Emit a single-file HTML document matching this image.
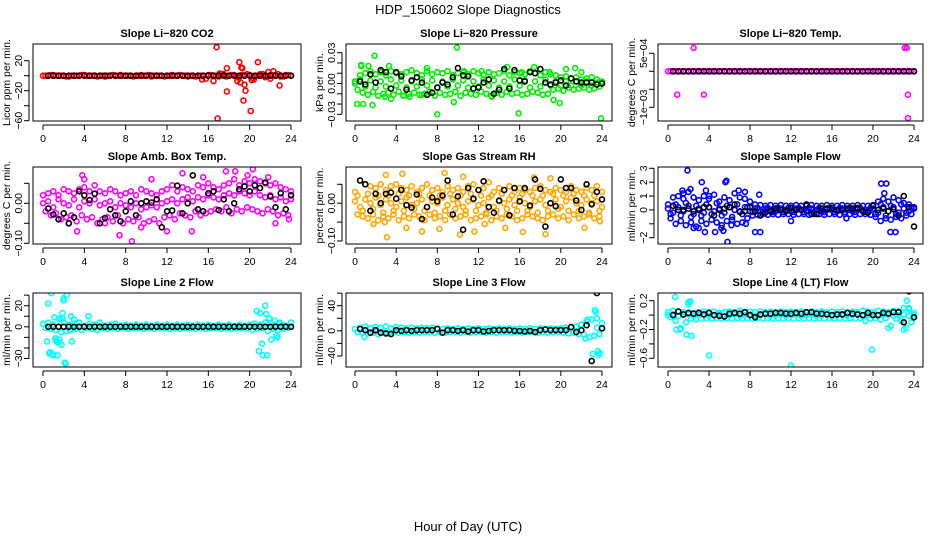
<!DOCTYPE html>
<html><head><meta charset="utf-8"><style>
body{margin:0;background:#fff}
svg{display:block;font-family:"Liberation Sans",sans-serif}
</style></head><body>
<svg id="c" width="936" height="540" viewBox="0 0 936 540">
<text x="468" y="14" text-anchor="middle" font-size="13">HDP_150602  Slope Diagnostics</text>
<text x="468" y="531" text-anchor="middle" font-size="13">Hour of Day (UTC)</text>
</svg>
<script>
// shared hours
const hxA=[0,0.5,1,1.5,2,2.5,3,3.5,4,4.5,5,5.5,6,6.5,7,7.5,8,8.5,9,9.5,10,10.5,11,11.5,12,12.5,13,13.5,14,14.5,15,15.5,16,16.5,17,17.5,18,18.5,19,19.5,20,20.5,21,21.5,22,22.5,23,23.5,24];
const hxB=[0.25,0.75,1.25,1.75,2.25,2.75,3.25,3.75,4.25,4.75,5.25,5.75,6.25,6.75,7.25,7.75,8.25,8.75,9.25,9.75,10.25,10.75,11.25,11.75,12.25,12.75,13.25,13.75,14.25,14.75,15.25,15.75,16.25,16.75,17.25,17.75,18.25,18.75,19.25,19.75,20.25,20.75,21.25,21.75,22.25,22.75,23.25,23.75];
const blackX=[0.5,1,1.5,2,2.5,3,3.5,4,4.5,5,5.5,6,6.5,7,7.5,8,8.5,9,9.5,10,10.5,11,11.5,12,12.5,13,13.5,14,14.5,15,15.5,16,16.5,17,17.5,18,18.5,19,19.5,20,20.5,21,21.5,22,22.5,23,23.5,24];
const xTicks=[0,4,8,12,16,20,24];
const zeros48=[0,0,0,0,0,0,0,0,0,0,0,0,0,0,0,0,0,0,0,0,0,0,0,0,0,0,0,0,0,0,0,0,0,0,0,0,0,0,0,0,0,0,0,0,0,0,0,0];
const zeros49=[0,0,0,0,0,0,0,0,0,0,0,0,0,0,0,0,0,0,0,0,0,0,0,0,0,0,0,0,0,0,0,0,0,0,0,0,0,0,0,0,0,0,0,0,0,0,0,0,0];

// P1 CO2
const co2A=[0,0,1,0,0,-1,0,0,1,0,0,0,-1,0,0,1,0,0,0,1,0,-1,0,0,0,1,0,0,-1,0,0,0,1,0,-1,2,0,1,-2,0,1,-1,2,-2,1,0,-1,1,0];
const co2B=[0,1,0,0,-1,0,0,1,0,0,-1,0,0,1,0,0,0,-1,0,0,1,0,0,-1,0,0,1,0,0,-1,0,-4,1,0,2,-1,1,-2,1,2,-3,0,2,-1,1,2,-1,1];
const co2OutX=[15.4,16.5,16.8,16.9,17.1,17.8,17.8,18.8,19.0,19.1,19.2,19.3,19.4,19.5,19.6,20.1,20.2,20.4,20.8,21.8,22.0,22.3,22.9];
const co2OutY=[-5,-7,38,-57,3,10,-21,-7,18,-9,11,10,-33,-12,-20,-47,-6,-5,18,5,-4,6,-13];
// P2 Pressure
const prsA=[0.002,0.008,0.01,0.012,0.009,0.011,0.008,0.012,0.01,0.009,0.011,0.013,0.01,0.008,0.012,0.009,0.011,0.01,0.012,0.008,0.01,0.011,0.009,0.012,0.01,0.008,0.011,0.009,0.01,0.012,0.008,0.011,0.01,0.009,0.012,0.01,0.008,0.011,0.009,0.008,0.006,0.007,0.005,0.006,0.004,0.005,0.006,0.004,0.002];
const prsB=[-0.006,-0.009,-0.011,-0.008,-0.012,-0.01,-0.009,-0.011,-0.008,-0.012,-0.01,-0.009,-0.011,-0.01,-0.008,-0.012,-0.009,-0.011,-0.01,-0.008,-0.012,-0.009,-0.01,-0.011,-0.008,-0.01,-0.012,-0.009,-0.011,-0.008,-0.01,-0.009,-0.011,-0.01,-0.008,-0.009,-0.011,-0.01,-0.006,-0.005,-0.007,-0.004,-0.006,-0.005,-0.004,-0.006,-0.005,-0.003];
const prsC=[0,0.004,-0.003,0.003,-0.004,0.002,-0.003,0.004,-0.002,0.003,-0.004,0.002,-0.003,0.004,-0.002,0.003,-0.004,0.002,-0.003,0.004,-0.002,0.003,-0.004,0.002,-0.003,0.004,-0.002,0.003,-0.004,0.002,-0.003,0.004,-0.002,0.003,-0.004,0.002,-0.003,0.004,-0.002,0.002,-0.002,0.002,-0.002,0.002,-0.002,0.002,-0.002,0.001,0];
const prsOutX=[0.2,0.6,0.8,1.7,1.9,0.6,1.3,3.3,3.5,2.9,9.9,8.0,15.9,19.9,23.9,10.6,2.6,7.0,12.3,17.4,20.5,21.4,22.0,4.7,5.3,9.6,13.3,14.8,16.2,18.9,19.3,6.5];
const prsOutY=[-0.02,0.017,-0.02,-0.021,0.027,0.018,0.017,0.017,-0.015,-0.013,0.035,-0.030,-0.029,-0.019,-0.034,0.012,0.012,0.015,0.012,0.016,0.014,0.015,0.011,-0.012,-0.013,-0.018,-0.013,0.016,0.011,0.011,-0.016,-0.011];
const prsBlack=[0.002,-0.001,0.009,0.001,0.013,0.011,-0.005,0.011,0.007,-0.006,0.003,0.006,0.001,-0.011,-0.009,-0.004,0.001,-0.001,0.006,0.015,0.008,0.007,-0.005,-0.004,0.001,0.004,-0.01,-0.006,0.014,-0.005,0.013,0.003,0.002,0.011,0.01,0.014,0.001,-0.001,0.001,0.003,-0.002,0.005,0.002,0.001,0.001,0.001,-0.001,0.0];
// P3 Li-820 temp
const tmpOutX=[2.5,0.9,3.5,23.1,23.3,23.4,23.4];
const tmpOutY=[0.00065,-0.00065,-0.00065,0.00065,0.00065,-0.00065,-0.0013];
// P4 Amb box temp
const ambA=[0.02,0.025,0.03,0.02,0.035,0.03,0.025,0.035,0.04,0.03,0.045,0.03,0.025,0.035,0.03,0.02,0.025,0.03,0.02,0.035,0.03,0.025,0.02,0.03,0.035,0.045,0.03,0.04,0.035,0.03,0.045,0.04,0.05,0.04,0.035,0.045,0.05,0.06,0.045,0.055,0.05,0.06,0.055,0.05,0.045,0.05,0.04,0.035,0.03];
const ambB=[-0.02,-0.03,-0.025,-0.04,-0.035,-0.03,-0.045,-0.03,-0.04,-0.035,-0.05,-0.04,-0.035,-0.045,-0.03,-0.05,-0.04,-0.045,-0.035,-0.05,-0.045,-0.04,-0.05,-0.035,-0.03,-0.04,-0.025,-0.03,-0.035,-0.02,-0.03,-0.025,-0.02,-0.015,-0.02,-0.01,-0.025,-0.015,-0.02,-0.01,-0.015,-0.02,-0.025,-0.015,-0.02,-0.03,-0.025,-0.03];
const ambC=[0,0.005,-0.01,0.01,0,-0.005,0.01,-0.01,0.005,0,0.01,-0.005,0,0.005,-0.01,0,-0.005,-0.01,0,-0.015,-0.01,-0.005,-0.01,0,0.005,0.01,0,0.01,0.015,0.005,0.015,0.01,0.02,0.015,0.01,0.02,0.025,0.02,0.03,0.025,0.02,0.03,0.02,0.015,0.02,0.01,0.015,0.005,0.01];
const ambOutX=[3.8,4.0,8.6,7.4,13.5,17.7,19.8,20.3,18.6,14.4,12.0,2.5,6.0,9.5,15.5,3.3,10.5,21.8,23.8,22.5];
const ambOutY=[0.07,0.06,-0.095,-0.08,0.075,0.08,0.07,0.085,0.08,-0.07,-0.07,-0.05,-0.05,-0.06,0.065,-0.07,0.06,0.065,-0.04,-0.05];
const ambBlack=[-0.013,-0.028,-0.04,-0.025,-0.05,-0.035,0.03,0.02,0.008,0.024,-0.05,-0.037,-0.015,-0.03,-0.045,-0.02,0.005,-0.03,0.0,0.005,0.002,0.01,-0.06,-0.02,-0.018,0.044,-0.025,0.0,0.07,-0.015,-0.02,0.025,0.03,-0.017,0.01,-0.02,0.0,0.035,0.042,0.03,0.045,0.038,0.052,0.017,-0.01,0.025,-0.015,0.02];
// P5 RH
const rhA=[0.03,0.06,0.05,0.045,0.04,0.05,0.035,0.045,0.05,0.04,0.035,0.045,0.03,0.04,0.05,0.035,0.04,0.03,0.045,0.035,0.04,0.03,0.045,0.05,0.035,0.04,0.055,0.03,0.04,0.035,0.045,0.03,0.04,0.035,0.03,0.04,0.045,0.035,0.03,0.04,0.035,0.03,0.045,0.035,0.03,0.04,0.035,0.045,0.03];
const rhB=[-0.03,-0.035,-0.04,-0.03,-0.045,-0.035,-0.04,-0.03,-0.045,-0.035,-0.04,-0.03,-0.035,-0.045,-0.03,-0.04,-0.035,-0.045,-0.03,-0.04,-0.035,-0.03,-0.045,-0.04,-0.035,-0.03,-0.045,-0.035,-0.04,-0.03,-0.035,-0.045,-0.04,-0.03,-0.035,-0.04,-0.045,-0.035,-0.03,-0.04,-0.035,-0.045,-0.03,-0.04,-0.035,-0.03,-0.04,-0.035];
const rhC=[0.005,-0.01,0.01,0,0.015,-0.005,0.01,0,-0.01,0.005,0.015,-0.005,0,0.01,-0.01,0.005,0,0.015,-0.005,0.01,0,-0.01,0.005,0.01,-0.005,0,0.015,-0.01,0.005,0,0.01,-0.005,0.015,0,-0.01,0.005,0.01,-0.005,0,0.01,-0.01,0.005,0.015,0,-0.005,0.01,0,0.005,-0.01];
const rhD=[0.02,-0.02,0.025,-0.015,0.02,-0.025,0.02,-0.02,0.025,-0.02,0.02,-0.015,0.025,-0.02,0.02,-0.025,0.02,-0.02,0.025,-0.015,0.02,-0.02,0.025,-0.02,0.02,-0.025,0.02,-0.02,0.025,-0.015,0.02,-0.02,0.025,-0.02,0.02,-0.025,0.02,-0.02,0.025,-0.015,0.02,-0.02,0.025,-0.02,0.02,-0.025,0.02,-0.02];
const rhOutX=[0.2,3.0,3.1,4.6,8.7,10.5,11.6,6.5,8.2,10.2,17.4,18.5,19.0,22.3,23.8,1.8,2.9,5.0,14.6,16.3,12.6];
const rhOutY=[-0.118,0.075,-0.09,0.078,0.08,0.07,-0.075,-0.075,-0.068,-0.083,0.068,-0.082,0.066,-0.065,-0.048,-0.055,-0.05,-0.065,-0.065,-0.076,-0.055];
const rhBlack=[0.06,0.05,-0.02,0.025,0.0,0.025,0.028,0.012,0.035,-0.005,-0.012,0.023,-0.042,-0.01,0.015,0.005,0.02,0.06,-0.03,0.018,-0.07,0.04,0.012,0.035,0.058,-0.01,-0.025,0.007,0.035,-0.032,0.04,0.005,0.04,-0.006,0.063,0.038,-0.062,0.0,-0.008,0.063,0.04,0.04,0.007,-0.018,0.05,-0.003,0.03,0.01];
// P6 Sample flow
const sfA=[0.4,0.9,1.0,0.8,1.3,0.9,0.7,1.0,0.8,1.1,0.6,0.9,0.7,1.2,0.9,0.8,0.6,0.4,0.35,0.3,0.35,0.3,0.35,0.3,0.3,0.35,0.3,0.3,0.35,0.3,0.3,0.35,0.3,0.3,0.35,0.3,0.3,0.35,0.3,0.3,0.35,0.6,0.8,0.6,0.9,0.7,0.5,0.4,0.2];
const sfB=[-0.6,-1.0,-0.8,-1.1,-0.9,-1.2,-0.8,-1.0,-0.7,-0.9,-1.1,-0.8,-0.7,-1.0,-0.9,-0.6,-0.4,-0.35,-0.3,-0.35,-0.3,-0.35,-0.3,-0.3,-0.35,-0.3,-0.3,-0.35,-0.3,-0.3,-0.35,-0.3,-0.3,-0.35,-0.3,-0.3,-0.35,-0.3,-0.3,-0.35,-0.5,-0.8,-0.6,-0.7,-0.5,-0.6,-0.4,-0.3];
const sfC=[0.1,-0.2,0.2,-0.1,0.3,-0.3,0.1,-0.2,0.2,-0.1,0.1,-0.2,0.2,0,-0.1,0.2,-0.1,0.1,-0.1,0.1,0,-0.1,0.1,0,-0.1,0.1,0,-0.1,0.1,0,-0.1,0.1,0,-0.1,0.1,0,-0.1,0.1,0,-0.1,0.1,-0.2,0.2,-0.1,0.2,-0.2,0.1,-0.1,0.1];
const sfD=[-0.3,0.4,-0.4,0.5,-0.5,0.3,-0.4,0.4,-0.3,0.5,-0.4,0.3,-0.5,0.4,-0.3,0.2,-0.15,0.15,-0.15,0.15,-0.15,0.15,-0.15,0.15,-0.15,0.15,-0.15,0.15,-0.15,0.15,-0.15,0.15,-0.15,0.15,-0.15,0.15,-0.15,0.15,-0.15,0.15,-0.3,0.4,-0.4,0.3,-0.3,0.4,-0.2,0.2];
const sfOutX=[1.9,3.3,5.6,5.7,4.0,2.2,3.7,1.4,1.5,3.0,3.6,2.5,4.6,5.2,5.4,5.8,6.9,7.5,8.5,8.9,9.0,12.0,20.8,21.3,21.1,21.7,22.2,6.2,7.6,17.4];
const sfOutY=[2.85,2.0,2.0,2.1,1.0,1.5,1.4,1.4,1.2,-1.3,-1.6,-1.3,-1.6,-1.3,-1.5,-2.3,1.4,1.3,-1.6,1.1,-1.6,-0.8,1.9,1.9,1.2,-1.6,-1.6,-1.1,-1.0,-0.6];
const sfBlack=[0.3,0,0,0.1,-0.1,0,0.2,0.2,-0.4,0,0.1,0.2,0.4,-0.15,-0.1,0.2,-0.1,-0.4,-0.2,-0.1,0.1,0,-0.1,0.15,0,0,0.4,-0.3,-0.3,0.1,0.05,0.15,0,0,0.1,0.1,0.15,-0.1,-0.2,0.3,0,0.1,-0.1,0.05,-0.4,1.0,0.2,-1.2];
// P7 Line 2
const l2A=[3,4,2,8,4,2,3,4,1,3,2,4,1,2,3,1,2,1,2,1,2,1,2,1,2,1,2,1,2,1,2,1,2,1,2,1,2,1,2,1,2,3,2,4,3,2,3,1,4];
const l2B=[-1,-2,-3,-5,-4,-3,-2,-3,-1,-2,-3,-1,-2,-1,-2,-1,-2,-1,-1,-2,-1,-2,-1,-1,-2,-1,-2,-1,-1,-2,-1,-2,-1,-1,-2,-1,-2,-1,-1,-2,-3,-2,-1,-4,-2,-3,-2,-1];
const l2OutX=[0.4,0.5,0.7,0.8,0.9,1.0,1.1,1.2,1.3,1.4,1.5,1.6,1.7,1.8,1.9,2.0,2.1,2.2,2.3,2.6,2.7,2.8,2.0,1.9,3.0,0.6,1.3,4.4,20.7,20.9,21.0,21.2,21.3,21.5,21.6,21.7,21.9,22.1,22.4,22.6,22.7,22.9];
const l2OutY=[-14,22,-24,32,-26,-27,9,-11,-14,-27,-15,-12,7,-17,13,25,-34,-35,30,-3,10,-14,27,8,7,-25,-13,10,15,-23,13,-16,-27,20,12,-27,8,-12,6,-8,-10,4];
// P8 Line 3
const l3A=[3,5,7,4,6,5,7,4,6,5,4,5,4,5,4,5,4,3,4,3,4,3,4,3,4,3,4,3,4,3,4,3,4,3,4,3,4,3,4,3,4,5,6,7,10,15,18,20,12];
const l3B=[-2,-3,-4,-3,-5,-3,-4,-2,-3,-2,-3,-2,-3,-2,-2,-3,-2,-3,-2,-2,-3,-2,-3,-2,-2,-3,-2,-3,-2,-2,-3,-2,-3,-2,-2,-3,-2,-3,-2,-2,-3,-4,-3,-5,-6,-10,-8,-5];
const l3OutX=[0.9,23.3,23.4,23.6,23.7,23.8,23.1,23.5,22.4,22.6];
const l3OutY=[-10,33,30,-32,-38,-35,-37,5,-12,18];
const l3Black=[3,1,-3,1,-3,-4,-5,1,0,1,0,1,1,1,1,3,-3,1,1,0,1,-1,1,1,-1,0,1,1,1,1,0,0,-1,0,-2,1,2,1,1,1,1,6,-2,1,9,-48,60,4];
// P9 Line 4
const l4A=[0.04,0.06,0.05,0.04,0.15,0.03,0.04,0.05,0.04,0.05,0.03,0.04,0.05,0.04,0.06,0.04,0.05,0.04,0.05,0.04,0.05,0.04,0.05,0.04,0.05,0.04,0.05,0.04,0.05,0.04,0.05,0.04,0.05,0.04,0.05,0.04,0.05,0.04,0.06,0.05,0.04,0.06,0.05,0.04,0.06,0.05,0.1,0.08,0.03];
const l4B=[-0.03,-0.08,-0.18,-0.1,-0.05,-0.06,-0.05,-0.04,-0.05,-0.04,-0.05,-0.04,-0.05,-0.04,-0.05,-0.04,-0.05,-0.04,-0.05,-0.04,-0.05,-0.04,-0.05,-0.04,-0.05,-0.04,-0.05,-0.04,-0.05,-0.04,-0.05,-0.04,-0.05,-0.04,-0.05,-0.04,-0.05,-0.04,-0.08,-0.05,-0.04,-0.06,-0.04,-0.15,-0.05,-0.08,-0.18,-0.1];
const l4C=[0,0.01,-0.01,0,0.01,-0.01,0,0.01,-0.01,0,0.01,-0.01,0,0.01,-0.01,0,0.01,-0.01,0,0.01,-0.01,0,0.01,-0.01,0,0.01,-0.01,0,0.01,-0.01,0,0.01,-0.01,0,0.01,-0.01,0,0.01,-0.01,0,0.01,-0.01,0,0.01,-0.01,0,0.01,-0.01,0];
const l4OutX=[0.7,2.0,2.2,1.8,2.3,4.0,12.0,19.9,23.3,23.5,0.8,1.2,21.5,23.0];
const l4OutY=[0.25,0.18,0.19,-0.27,-0.29,-0.56,-0.70,-0.48,0.2,0.1,-0.2,-0.2,-0.18,-0.2];
const l4Black=[0,0.05,0.01,0.03,0.02,0.03,0.01,0.03,0.0,-0.01,-0.02,0.02,0.03,0.02,0.04,0.0,-0.03,0.01,0.02,0.02,0.03,0.03,0.02,0.02,0.03,0.02,0.04,0.04,0.02,0.02,0.01,0.0,0.01,0.01,0.03,0.02,0.01,0.0,0.03,0.0,0.0,0.03,0.02,0.04,0.04,-0.1,0.33,-0.03];

// tick values / labels
const tk1=[20,0,-20,-40,-60], tl1=['20','','−20','','−60'];
const tk2=[0.03,0.02,0.01,0,-0.01,-0.02,-0.03], tl2=['0.03','','','0.00','','','−0.03'];
const tk3=[0.0005,0,-0.0005,-0.001], tl3=['5e−04','','','−1e−03'];
const tk4=[0.05,0,-0.05,-0.1], tl4=['','0.00','','−0.10'];
const tk5=[0.05,0,-0.05,-0.1], tl5=['','0.00','','−0.10'];
const tk6=[3,2,1,0,-1,-2], tl6=['3','2','1','0','','−2'];
const tk7=[30,20,10,0,-10,-20,-30], tl7=['','20','','0','','','−30'];
const tk8=[60,40,20,0,-20,-40], tl8=['','40','','0','','−40'];
const tk9=[0.2,0,-0.2,-0.4,-0.6], tl9=['0.2','','−0.2','','−0.6'];

// layout (pixels) kept separate from data
const cols=[{l:33,r:301,x0:43,x24:291},{l:346,r:612,x0:355,x24:602},{l:658,r:923,x0:668,x24:914}];
const rows=[{t:44,b:121},{t:167,b:244},{t:293,b:367}];

const panels=[
 {name:'co2',title:'Slope Li−820 CO2',yt:'Licor ppm per min.',c:0,r:0,cal:[20,60.7,-60,120.7],col:'#ff0000',ticks:tk1,labels:tl1,
  series:[[hxA,co2A],[hxB,co2B],[co2OutX,co2OutY]],black:zeros48},
 {name:'pressure',title:'Slope Li−820 Pressure',yt:'kPa per min.',c:1,r:0,cal:[0.03,52.7,-0.03,114.3],col:'#00ee00',ticks:tk2,labels:tl2,
  series:[[hxA,prsA],[hxB,prsB],[hxA,prsC],[prsOutX,prsOutY]],black:prsBlack},
 {name:'li820-temp',title:'Slope Li−820 Temp.',yt:'degrees C per min.',c:2,r:0,cal:[0.0005,53.3,-0.001,107.3],col:'#ff00ff',ticks:tk3,labels:tl3,
  series:[[hxA,zeros49],[hxB,zeros48],[tmpOutX,tmpOutY]],black:zeros48},
 {name:'amb-box-temp',title:'Slope Amb. Box Temp.',yt:'degrees C per min.',c:0,r:1,cal:[0.05,183.3,-0.1,243.3],col:'#ff00ff',ticks:tk4,labels:tl4,
  series:[[hxA,ambA],[hxB,ambB],[hxA,ambC],[ambOutX,ambOutY]],black:ambBlack},
 {name:'gas-stream-rh',title:'Slope Gas Stream RH',yt:'percent per min.',c:1,r:1,cal:[0.05,184.3,-0.1,241],col:'#ffa500',ticks:tk5,labels:tl5,
  series:[[hxA,rhA],[hxB,rhB],[hxA,rhC],[hxB,rhD],[rhOutX,rhOutY]],black:rhBlack},
 {name:'sample-flow',title:'Slope Sample Flow',yt:'ml/min per min.',c:2,r:1,cal:[3,168.3,-2,237.7],col:'#0000ff',ticks:tk6,labels:tl6,
  series:[[hxA,sfA],[hxB,sfB],[hxA,sfC],[hxB,sfD],[sfOutX,sfOutY]],black:sfBlack},
 {name:'line2-flow',title:'Slope Line 2 Flow',yt:'ml/min per min.',c:0,r:2,cal:[20,305.7,-30,358.5],col:'#00ffff',ticks:tk7,labels:tl7,
  series:[[hxA,l2A],[hxB,l2B],[l2OutX,l2OutY]],black:zeros48},
 {name:'line3-flow',title:'Slope Line 3 Flow',yt:'ml/min per min.',c:1,r:2,cal:[40,305.7,-40,356],col:'#00ffff',ticks:tk8,labels:tl8,
  series:[[hxA,l3A],[hxB,l3B],[l3OutX,l3OutY]],black:l3Black},
 {name:'line4-flow',title:'Slope Line 4 (LT) Flow',yt:'ml/min per min.',c:2,r:2,cal:[0.2,300.7,-0.6,358.3],col:'#00ffff',ticks:tk9,labels:tl9,
  series:[[hxA,l4A],[hxB,l4B],[hxA,l4C],[l4OutX,l4OutY]],black:l4Black}
];

const NS='http://www.w3.org/2000/svg';
const svg=document.getElementById('c');
function mk(tag,attrs,parent){const e=document.createElementNS(NS,tag);for(const k in attrs)e.setAttribute(k,attrs[k]);(parent||svg).appendChild(e);return e;}

panels.forEach((p,pi)=>{
  const C=cols[p.c],R=rows[p.r];
  const xs=v=>C.x0+(C.x24-C.x0)*v/24;
  const ys=v=>p.cal[1]+(p.cal[3]-p.cal[1])*(v-p.cal[0])/(p.cal[2]-p.cal[0]);
  const g=mk('g',{});
  
  
  const cp=mk('clipPath',{id:'cp'+pi},g);
  mk('rect',{x:C.l,y:R.t,width:C.r-C.l,height:R.b-R.t},cp);
  const t=mk('text',{x:(C.l+C.r)/2,y:R.t-7,'text-anchor':'middle','font-size':11,'font-weight':'bold'},g);
  t.textContent=p.title;
  
  
  const pts=mk('g',{'clip-path':'url(#cp'+pi+')',fill:'none','stroke-width':1.6},g);
  
  
  p.series.forEach(([X,Y])=>{
    for(let i=0;i<Y.length;i++){
      const c=mk('circle',{cx:xs(X[i]).toFixed(1),cy:ys(Y[i]).toFixed(1),r:2.5,stroke:p.col},pts);
      
      
    }
  });
  for(let i=0;i<p.black.length;i++){
    const c=mk('circle',{cx:xs(blackX[i]).toFixed(1),cy:ys(p.black[i]).toFixed(1),r:2.5,stroke:'#000'},pts);
    
    
  }
  const box=mk('rect',{x:C.l,y:R.t,width:C.r-C.l,height:R.b-R.t,fill:'none',stroke:'#000','stroke-width':1},g);
  
  
  // x axis
  const xa=mk('g',{stroke:'#000','stroke-width':1},g);
  
  
  const yb=R.b+4;
  mk('line',{x1:xs(xTicks[0]),x2:xs(xTicks[xTicks.length-1]),y1:yb,y2:yb},xa);
  xTicks.forEach(v=>{
    mk('line',{x1:xs(v),x2:xs(v),y1:yb,y2:yb+5},xa);
    const l=mk('text',{x:xs(v),y:yb+17,'text-anchor':'middle','font-size':10.5,stroke:'none',fill:'#000'},g);
    l.textContent=v;
    
    
  });
  // y axis
  const ya=mk('g',{stroke:'#000','stroke-width':1},g);
  
  
  const xl=C.l-4;
  const yt0=ys(p.ticks[0]),yt1=ys(p.ticks[p.ticks.length-1]);
  mk('line',{x1:xl,x2:xl,y1:Math.max(yt0,R.t-2),y2:Math.min(yt1,R.b+2)},ya);
  p.ticks.forEach((v,i)=>{
    const y=ys(v);
    if(y<R.t-3||y>R.b+3)return;
    mk('line',{x1:xl-5,x2:xl,y1:y,y2:y},ya);
    if(p.labels[i]){
      const l=mk('text',{x:0,y:0,transform:`translate(${xl-7},${y}) rotate(-90)`,'text-anchor':'middle','font-size':10.5},g);
      l.textContent=p.labels[i];
      
      
    }
  });
  const yl=mk('text',{x:0,y:0,transform:`translate(${C.l-23},${(R.t+R.b)/2}) rotate(-90)`,'text-anchor':'middle','font-size':10.5},g);
  yl.textContent=p.yt;
  
  
});
</script>
</body></html>
